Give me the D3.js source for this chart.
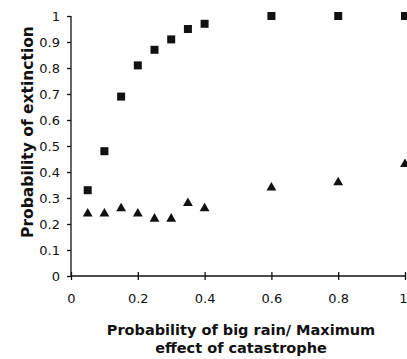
<!DOCTYPE html>
<html><head><meta charset="utf-8">
<script src="https://cdn.jsdelivr.net/npm/d3@7"></script>
<style>body{margin:0;background:#fff}</style>
</head><body><svg id="c" width="407" height="359"></svg>
<script>
const xValues = [0.05, 0.1, 0.15, 0.2, 0.25, 0.3, 0.35, 0.4, 0.6, 0.8, 1];
const squareValues = [0.33, 0.48, 0.69, 0.81, 0.87, 0.91, 0.95, 0.97, 1, 1, 1];
const triangleValues = [0.24, 0.24, 0.26, 0.24, 0.22, 0.22, 0.28, 0.26, 0.34, 0.36, 0.43];
const xTicks = [0, 0.2, 0.4, 0.6, 0.8, 1];
const yTicks = [0, 0.1, 0.2, 0.3, 0.4, 0.5, 0.6, 0.7, 0.8, 0.9, 1];
const xTitle = ["Probability of big rain/ Maximum", "effect of catastrophe"];
const yTitle = "Probability of extinction";

const svg = d3.select("#c");
const x = d3.scaleLinear().domain([0, 1]).range([71, 405]);
const y = d3.scaleLinear().domain([0, 1]).range([276, 16]);
const tickFont = "'DejaVu Sans', sans-serif";
const titleFont = "'DejaVu Sans', sans-serif";

const fmt = d => d === 0 ? "0" : d === 1 ? "1" : d3.format(".1f")(d);

// y axis
const ya = svg.append("g").attr("transform", "translate(71,0)")
  .call(d3.axisLeft(y).tickValues(yTicks).tickFormat(fmt).tickSize(4).tickPadding(7));
ya.selectAll("text").attr("font-family", tickFont).attr("font-size", 13).attr("fill", "#111");
ya.selectAll("path,line").attr("stroke", "#111").attr("stroke-width", 1.3);
ya.select(".domain").attr("d", `M0,${y(0)}V${y(1)}`);

// x axis
const xa = svg.append("g").attr("transform", `translate(0,${y(0)})`)
  .call(d3.axisBottom(x).tickValues(xTicks).tickFormat(fmt).tickSize(4).tickPadding(14));
xa.selectAll(".tick line").attr("y1", -4);
xa.selectAll("text").attr("font-family", tickFont).attr("font-size", 13).attr("fill", "#111");
xa.selectAll(".tick").filter(d => d === 1).select("text").attr("text-anchor", "end").attr("x", 2);
xa.selectAll("path,line").attr("stroke", "#111").attr("stroke-width", 1.3);
xa.select(".domain").attr("d", `M${x(0)},0H${x(1)}`);

// squares
svg.append("g").selectAll("rect").data(xValues).join("rect")
  .attr("x", (d) => x(d) - 4).attr("y", (d, i) => y(squareValues[i]) - 4)
  .attr("width", 8).attr("height", 8).attr("fill", "#111");

// triangles
const tri = d3.symbol().type(d3.symbolTriangle).size(42);
svg.append("g").selectAll("path").data(xValues).join("path")
  .attr("d", tri).attr("fill", "#111")
  .attr("transform", (d, i) => `translate(${x(d)},${y(triangleValues[i])})`);

// titles
svg.append("text").attr("x", 241).attr("y", 335).attr("text-anchor", "middle")
  .attr("font-family", titleFont).attr("font-weight", "bold").attr("font-size", 14.5)
  .attr("fill", "#111").text(xTitle[0]);
svg.append("text").attr("x", 241).attr("y", 353).attr("text-anchor", "middle")
  .attr("font-family", titleFont).attr("font-weight", "bold").attr("font-size", 14.5)
  .attr("fill", "#111").text(xTitle[1]);
svg.append("text").attr("transform", "translate(33,132) rotate(-90)").attr("text-anchor", "middle")
  .attr("font-family", titleFont).attr("font-weight", "bold").attr("font-size", 15.5)
  .attr("fill", "#111").text(yTitle);
</script></body></html>
